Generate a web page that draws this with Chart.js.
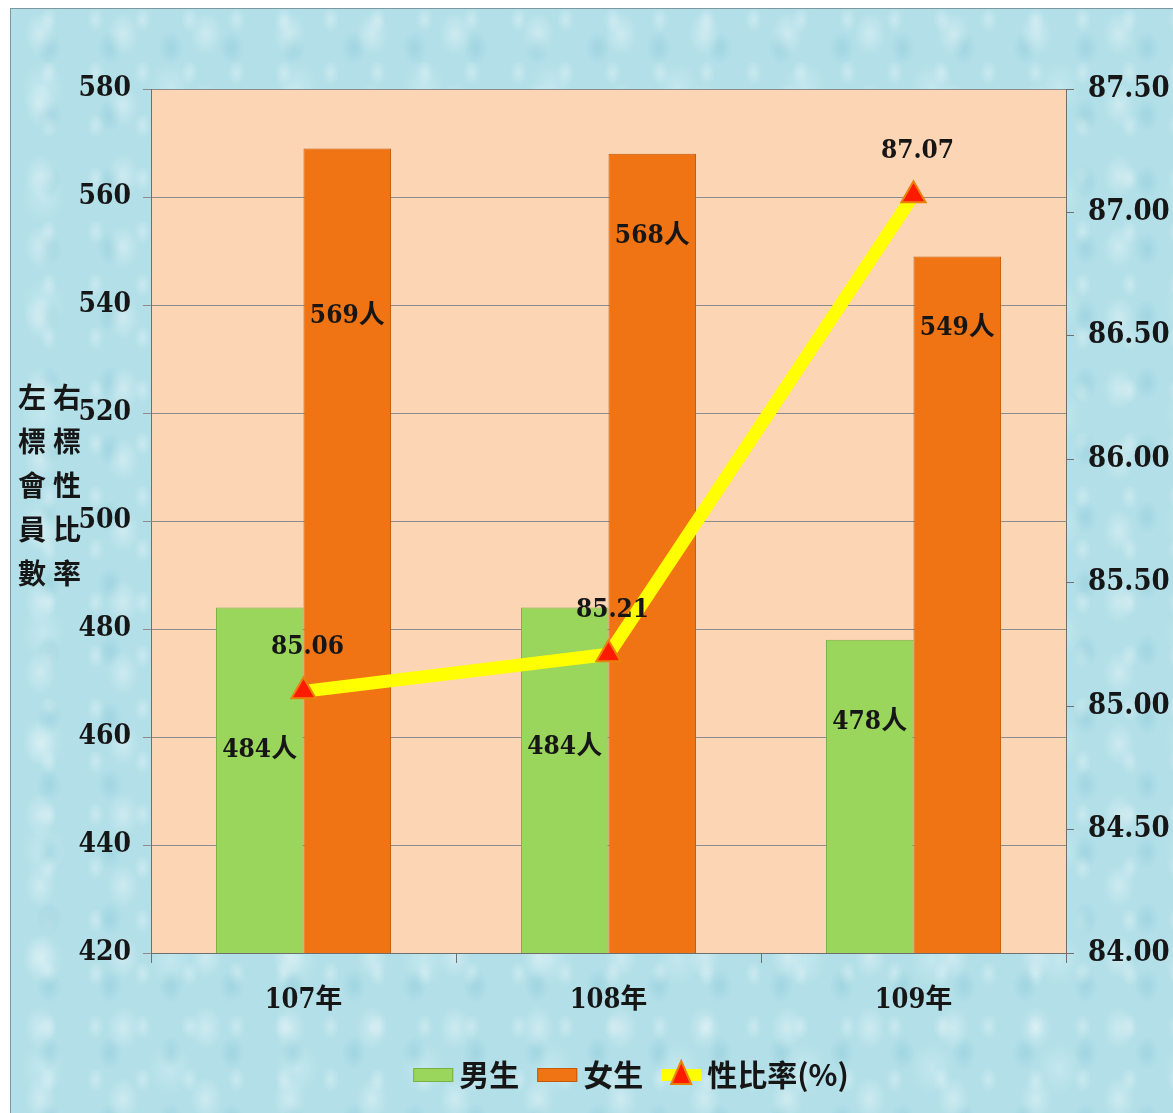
<!DOCTYPE html>
<html>
<head>
<meta charset="utf-8">
<script src="https://cdn.jsdelivr.net/npm/chart.js@4.4.1/dist/chart.umd.min.js"></script>
<style>
  html,body{margin:0;padding:0;background:#fff;}
  #frame{
    position:absolute;left:10px;top:8px;width:1163px;height:1105px;
    box-sizing:border-box;border-left:1px solid #7b98a0;border-top:1px solid #7b98a0;
    background-color:#b2dfe8;
    background-image:
      radial-gradient(ellipse 22px 30px at 35% 35%, rgba(255,255,255,.35), rgba(255,255,255,0) 75%),
      radial-gradient(ellipse 16px 22px at 62% 58%, rgba(120,190,205,.30), rgba(120,190,205,0) 75%),
      radial-gradient(ellipse 30px 36px at 25% 72%, rgba(235,250,252,.30), rgba(235,250,252,0) 75%),
      radial-gradient(ellipse 12px 18px at 80% 20%, rgba(255,255,255,.30), rgba(255,255,255,0) 75%);
    background-size:83px 71px, 61px 67px, 127px 109px, 47px 53px;
    overflow:hidden;
  }
  canvas{display:block;}
</style>
</head>
<body>
<div id="frame"><canvas id="c" width="1162" height="1104"></canvas></div>
<script>
const YEARS=['107年','108年','109年'];
const MALE=[484,484,478];
const FEMALE=[569,568,549];
const RATIO=[85.06,85.21,87.07];
const LEFT_TITLE='左標會員數';
const RIGHT_TITLE='右標性比率';

const NUM_FONT="'DejaVu Serif Condensed','Liberation Serif','Noto Sans CJK TC',serif";
const CJK_FONT="'Noto Sans CJK TC','Liberation Serif',serif";
// how far below each bar top its label sits (px)
const MALE_DROP=[143,140,82];
const FEMALE_DROP=[168,82,72];

const plotBg={
  id:'plotBg',
  beforeDraw(chart){
    const {ctx,chartArea:a}=chart;
    ctx.save();
    ctx.fillStyle='#fcd5b5';
    ctx.fillRect(a.left,a.top,a.right-a.left,a.bottom-a.top);
    ctx.restore();
  }
};

const labelsPlugin={
  id:'valueLabels',
  afterDatasetsDraw(chart){
    const {ctx}=chart;
    ctx.save();
    ctx.fillStyle='#161616';
    ctx.textAlign='center';
    ctx.textBaseline='middle';
    ctx.font="bold 26px "+NUM_FONT;
    const mMeta=chart.getDatasetMeta(1), fMeta=chart.getDatasetMeta(2), lMeta=chart.getDatasetMeta(0);
    mMeta.data.forEach((b,i)=>ctx.fillText(MALE[i]+'人',b.x,b.y+MALE_DROP[i]));
    fMeta.data.forEach((b,i)=>ctx.fillText(FEMALE[i]+'人',b.x,b.y+FEMALE_DROP[i]));
    lMeta.data.forEach((p,i)=>ctx.fillText(RATIO[i].toFixed(2),p.x+4,p.y-44));
    ctx.restore();
  }
};

const sidePlugin={
  id:'sideTitles',
  afterDraw(chart){
    const {ctx}=chart;
    ctx.save();
    ctx.fillStyle='#161616';
    ctx.textAlign='center';
    ctx.textBaseline='middle';
    ctx.font="bold 28px "+CJK_FONT;
    [...LEFT_TITLE].forEach((ch,i)=>ctx.fillText(ch,21,388+i*44));
    [...RIGHT_TITLE].forEach((ch,i)=>ctx.fillText(ch,56,388+i*44));

    // legend
    const ds=chart.data.datasets;
    const items=[
      {kind:'box',color:ds[1].backgroundColor,border:ds[1].borderColor,text:ds[1].label},
      {kind:'box',color:ds[2].backgroundColor,border:ds[2].borderColor,text:ds[2].label},
      {kind:'line',color:ds[0].borderColor,point:ds[0].pointBackgroundColor,border:ds[0].pointBorderColor,text:ds[0].label}
    ];
    ctx.font="bold 30px "+CJK_FONT;
    const sym=40, gapA=6, gapB=18;
    let total=0;
    items.forEach((it,i)=>{total+=sym+gapA+ctx.measureText(it.text).width+(i<items.length-1?gapB:0);});
    let x=620-total/2;
    const y=1066;
    items.forEach(it=>{
      if(it.kind==='box'){
        ctx.fillStyle=it.color;
        ctx.strokeStyle=it.border;
        ctx.lineWidth=1;
        ctx.fillRect(x,y-7,sym,14);
        ctx.strokeRect(x+.5,y-6.5,sym-1,13);
      }else{
        ctx.strokeStyle=it.color;
        ctx.lineWidth=12;
        ctx.beginPath();ctx.moveTo(x,y);ctx.lineTo(x+sym,y);ctx.stroke();
        ctx.fillStyle=it.point;
        ctx.strokeStyle=it.border;
        ctx.lineWidth=2;
        ctx.beginPath();
        ctx.moveTo(x+sym/2,y-14);ctx.lineTo(x+sym/2+10,y+9);ctx.lineTo(x+sym/2-10,y+9);ctx.closePath();
        ctx.fill();ctx.stroke();
      }
      x+=sym+gapA;
      ctx.fillStyle='#161616';
      ctx.textAlign='left';
      ctx.fillText(it.text,x,y);
      x+=ctx.measureText(it.text).width+gapB;
    });
    ctx.restore();
  }
};

new Chart(document.getElementById('c').getContext('2d'),{
  data:{
    labels:YEARS,
    datasets:[
      {type:'line',label:'性比率(%)',data:RATIO,yAxisID:'y1',order:0,
        borderColor:'#ffff00',borderWidth:13,
        pointStyle:'triangle',pointRadius:14,pointHoverRadius:14,
        pointBackgroundColor:'#ff1a00',pointBorderColor:'#e8820c',pointBorderWidth:2},
      {type:'bar',label:'男生',data:MALE,yAxisID:'y',order:1,
        backgroundColor:'#9bd65c',borderColor:'#79b043',borderWidth:1,
        barPercentage:1,categoryPercentage:0.574},
      {type:'bar',label:'女生',data:FEMALE,yAxisID:'y',order:2,
        backgroundColor:'#f07414',borderColor:'#c45a0a',borderWidth:1,
        barPercentage:1,categoryPercentage:0.574}
    ]
  },
  options:{
    responsive:false,
    animation:false,
    layout:{padding:{top:80,bottom:90,left:0,right:0}},
    plugins:{legend:{display:false},tooltip:{enabled:false}},
    scales:{
      x:{
        grid:{offset:true,drawOnChartArea:false,tickLength:10,color:'#6f6f6f'},
        border:{color:'#6f6f6f'},
        ticks:{color:'#161616',padding:22,font:{family:NUM_FONT,size:27,weight:'bold'}},
        afterFit(s){s.height=70;}
      },
      y:{
        position:'left',min:420,max:580,
        ticks:{stepSize:20,color:'#161616',padding:12,font:{family:NUM_FONT,size:28,weight:'bold'}},
        grid:{color:'#8c8c8c',tickLength:8},
        border:{color:'#6f6f6f'},
        afterFit(s){s.width=140;}
      },
      y1:{
        position:'right',min:84,max:87.5,
        ticks:{stepSize:0.5,color:'#161616',padding:14,font:{family:NUM_FONT,size:29,weight:'bold'},
          callback:v=>v.toFixed(2)},
        grid:{drawOnChartArea:false,tickLength:8,color:'#6f6f6f'},
        border:{color:'#6f6f6f'},
        afterFit(s){s.width=107;}
      }
    }
  },
  plugins:[plotBg,labelsPlugin,sidePlugin]
});
</script>
</body>
</html>
